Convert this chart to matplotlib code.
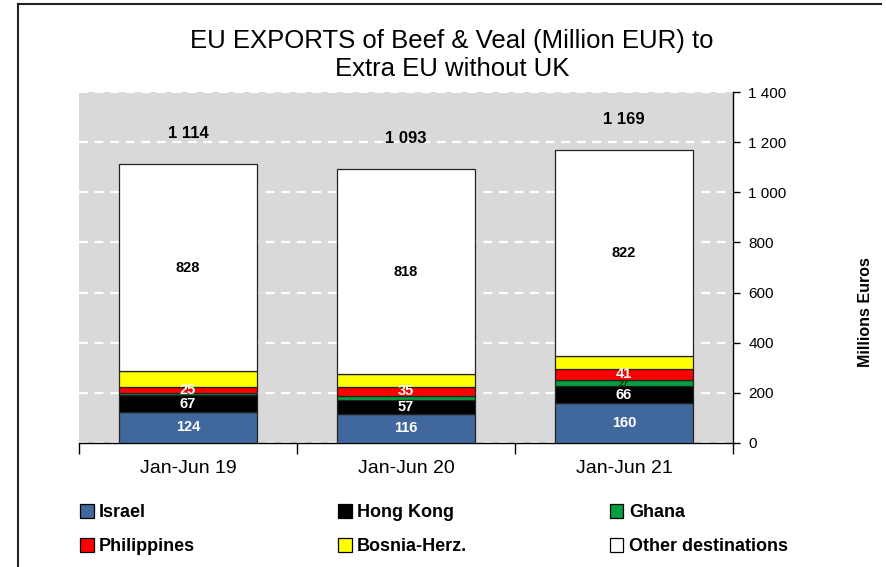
import numpy as np
import matplotlib.pyplot as plt
from matplotlib.patches import Patch
from matplotlib.ticker import FuncFormatter
from matplotlib.lines import Line2D

plt.rcParams['font.family'] = ['Liberation Sans', 'DejaVu Sans']

periods = ['Jan-Jun 19', 'Jan-Jun 20', 'Jan-Jun 21']
israel = [124, 116, 160]
hong_kong = [67, 57, 66]
ghana = [8, 15, 27]
philippines = [25, 35, 41]
bosnia = [62, 52, 53]
other = [828, 818, 822]
totals = [1114, 1093, 1169]

series = [
    ('Israel', israel, '#41689c'),
    ('Hong Kong', hong_kong, '#000000'),
    ('Ghana', ghana, '#00a040'),
    ('Philippines', philippines, '#ff0000'),
    ('Bosnia-Herz.', bosnia, '#ffff00'),
    ('Other destinations', other, '#ffffff'),
]

# which segments get a value label, and in which colour
label_style = {
    'Israel': ('white', [True, True, True]),
    'Hong Kong': ('white', [True, True, True]),
    'Ghana': ('#003300', [False, False, True]),
    'Philippines': ('white', [True, True, True]),
    'Other destinations': ('black', [True, True, True]),
}

fig = plt.figure(figsize=(8.86, 5.67), dpi=100)
ax = fig.add_axes([79 / 886, 1 - 443 / 567, 654 / 886, 351 / 567])
ax.set_facecolor('#d9d9d9')

x = np.arange(len(periods))
bottom = np.zeros(len(periods))
for name, vals, color in series:
    vals = np.array(vals, dtype=float)
    ax.bar(x, vals, 0.63, bottom=bottom, color=color, edgecolor='#222222',
           linewidth=0.9, zorder=3)
    if name in label_style:
        tc, show = label_style[name]
        for i in range(len(x)):
            if show[i]:
                small = name == 'Ghana'
                ax.text(x[i], bottom[i] + vals[i] * (0.4 if small else 0.5),
                        str(int(vals[i])),
                        ha='center', va='center', color=tc,
                        fontsize=6.5 if small else 10.5,
                        fontweight='bold', zorder=4 if small else 5)
    bottom += vals

for i, t in enumerate(totals):
    ax.annotate(f'{t:,}'.replace(',', ' '), (x[i], t), xytext=(0, 22),
                textcoords='offset points', ha='center', va='center',
                fontsize=12, fontweight='bold')

ax.set_xlim(-0.5, 2.5)
ax.set_ylim(0, 1400)
ax.set_yticks(np.arange(0, 1401, 200))
ax.yaxis.set_major_formatter(FuncFormatter(lambda v, p: f'{int(v):,}'.replace(',', ' ')))
ax.yaxis.tick_right()
ax.tick_params(axis='y', direction='out', length=5, width=1, labelsize=11,
               pad=6, colors='black')
ax.yaxis.grid(True, color='white', linestyle=(0, (4, 3)), linewidth=1.6, zorder=0)
ax.set_axisbelow(True)

ax.set_xticks(x)
ax.set_xticklabels(periods, fontsize=14)
ax.set_xticks([-0.5, 0.5, 1.5, 2.5], minor=True)
ax.tick_params(axis='x', which='major', length=0, pad=12)
ax.tick_params(axis='x', which='minor', length=8, width=1, direction='out')

for s in ['top', 'left']:
    ax.spines[s].set_visible(False)
ax.spines['right'].set_linewidth(1)
ax.spines['bottom'].set_linewidth(1)

fig.text(0.51, 1 - 55 / 567, 'EU EXPORTS of Beef & Veal (Million EUR) to\nExtra EU without UK',
         ha='center', va='center', fontsize=18.5, linespacing=1.2)
fig.text(866 / 886, 1 - 312 / 567, 'Millions Euros', rotation=90,
         ha='center', va='center', fontsize=11.5, fontweight='bold')

# legend is filled column by column, so order handles to read row-wise
handles = [Patch(facecolor=c, edgecolor='black', linewidth=0.9, label=n)
           for n, v, c in series]
order = [0, 3, 1, 4, 2, 5]
fig.legend(handles=[handles[k] for k in order], ncol=3, loc='upper left',
           bbox_to_anchor=(64 / 886, 1 - 488 / 567), frameon=False,
           prop={'size': 13, 'weight': 'bold'}, handlelength=0.75,
           handleheight=0.75, handletextpad=0.3, columnspacing=7.9,
           labelspacing=0.95)

# outer frame (left and top edges)
fig.add_artist(Line2D([18 / 886, 18 / 886], [0, 1 - 4 / 567], color='#222222', lw=1.5))
fig.add_artist(Line2D([18 / 886, 881 / 886], [1 - 4 / 567, 1 - 4 / 567], color='#222222', lw=1.5))

fig.savefig('out.png', dpi=100)
